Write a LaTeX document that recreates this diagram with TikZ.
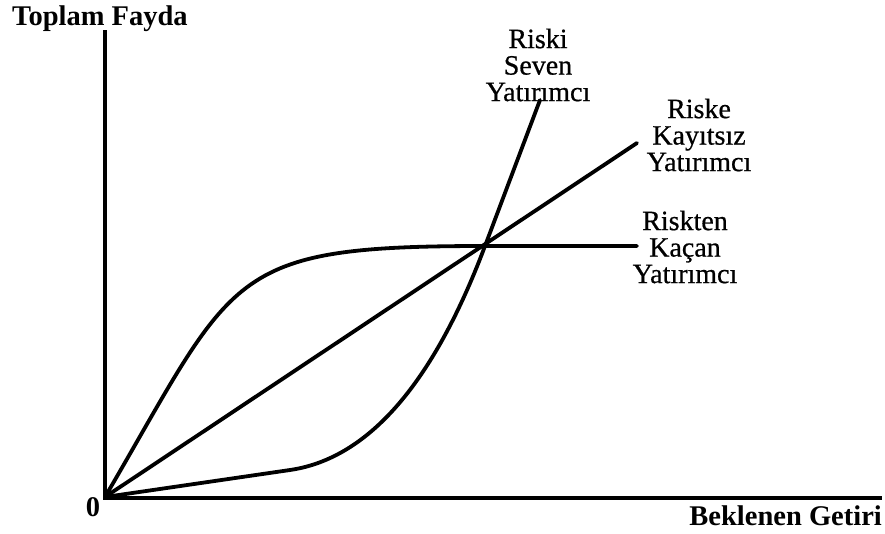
\documentclass[tikz,border=0pt]{standalone}
\usepackage{fontspec}
\setmainfont{Liberation Serif}
\newfontfamily\labelfont[FakeBold=0.6]{Liberation Serif}
\begin{document}
\begin{tikzpicture}[x=1pt,y=-1pt,
  axis/.style={line width=4.5pt,line cap=butt,line join=miter},
  curve/.style={line width=3.8pt,line cap=round,line join=round},
  curvelabel/.style={align=center,inner sep=0pt,font=\labelfont\fontsize{28}{26.5}\selectfont},
  axislabel/.style={inner sep=0pt,font=\fontsize{28.5}{30}\selectfont\bfseries}]
  \useasboundingbox[fill=white] (0,0) rectangle (885,533);

  % key points
  \coordinate (O) at (105,497);
  \coordinate (P) at (485,246);
  \coordinate (A) at (290,470);
  \coordinate (ytop) at (105,30);
  \coordinate (xend) at (882,498);
  \coordinate (neutralEnd) at (637,143);
  \coordinate (averseEnd) at (637,246);
  \coordinate (loverEnd) at (540,100);

  % axes
  \draw[axis] (ytop) -- (105,498) -- (xend);

  % risk-neutral: straight line
  \draw[curve] (O) -- (neutralEnd);

  % risk-averse: concave, then flat
  \draw[curve] (O) .. controls (236,273) and (225,246) .. (P) -- (averseEnd);

  % risk-loving: convex
  \draw[curve] (O) -- (A) .. controls (379,457) and (441,363) .. (P) -- (loverEnd);

  % labels
  \node[axislabel,anchor=base west] (ylab) at (12,25) {Toplam Fayda};
  \node[axislabel,anchor=base east] (xlab) at (882,525) {Beklenen Getiri};
  \node[axislabel] (zero) at (93,507) {0};

  \node[curvelabel] (lover) at (538,65) {Riski\\Seven\\Yatırımcı};
  \node[curvelabel] (neutral) at (699,135) {Riske\\Kayıtsız\\Yatırımcı};
  \node[curvelabel] (averse) at (685,247) {Riskten\\Kaçan\\Yatırımcı};
\end{tikzpicture}
\end{document}
